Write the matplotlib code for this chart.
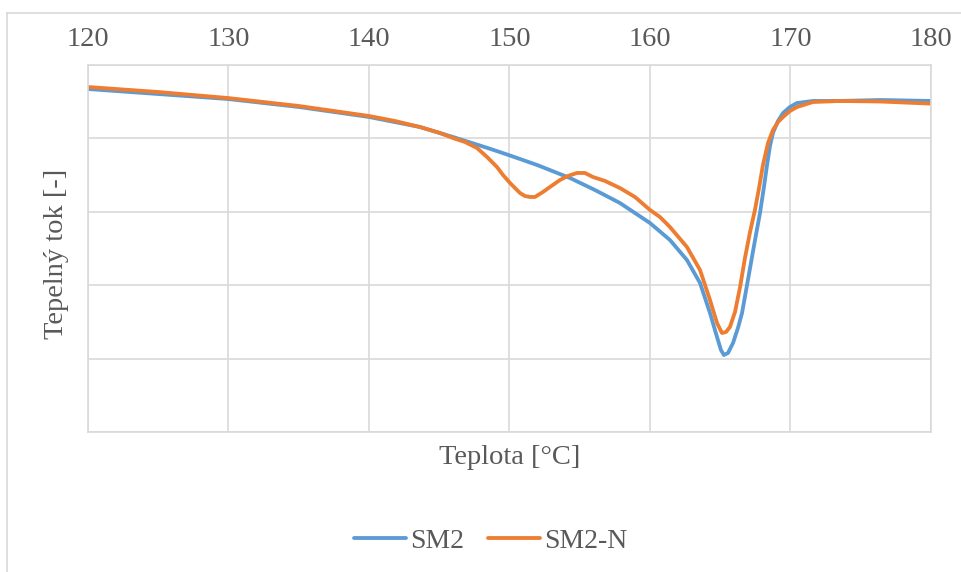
import matplotlib.pyplot as plt
from matplotlib.lines import Line2D

# readings (temperature in degC, heat flow in arbitrary units)
t_sm2 = [120.00, 124.98, 129.96, 135.02, 140.00, 143.63, 145.98, 148.40, 149.96, 151.96,
         154.31, 156.08, 157.86, 160.00, 161.42, 162.63, 163.56, 164.27, 164.77, 165.05,
         165.26, 165.55, 165.91, 166.26, 166.55, 166.97, 167.26, 167.54, 167.83, 168.11,
         168.33, 168.54, 168.75, 169.11, 169.47, 169.96, 170.46, 171.60, 173.52, 176.37,
         180.00]
q_sm2 = [4.673, 4.605, 4.537, 4.428, 4.292, 4.155, 4.019, 3.872, 3.772, 3.638,
         3.460, 3.297, 3.120, 2.847, 2.616, 2.343, 2.030, 1.621, 1.294, 1.117,
         1.049, 1.076, 1.213, 1.417, 1.621, 2.071, 2.384, 2.684, 2.984, 3.338,
         3.638, 3.896, 4.074, 4.237, 4.346, 4.428, 4.482, 4.510, 4.510, 4.523,
         4.510]

t_sm2n = [120.00, 124.98, 129.96, 135.02, 140.00, 141.85, 143.63, 145.05, 145.98, 146.83,
          147.69, 148.40, 149.11, 149.54, 150.04, 150.39, 150.75, 151.10, 151.46, 151.81,
          152.38, 152.88, 153.59, 154.16, 154.80, 155.37, 155.94, 156.80, 157.86, 158.93,
          160.00, 160.71, 161.42, 162.63, 163.56, 164.27, 164.77, 165.12, 165.41, 165.69,
          166.05, 166.41, 166.76, 167.12, 167.47, 167.76, 168.04, 168.40, 168.75, 169.11,
          169.47, 169.96, 170.46, 171.60, 173.52, 176.37, 180.00]
q_sm2n = [4.700, 4.632, 4.550, 4.441, 4.305, 4.237, 4.155, 4.074, 4.005, 3.951,
          3.869, 3.747, 3.610, 3.501, 3.392, 3.324, 3.256, 3.215, 3.202, 3.202,
          3.270, 3.338, 3.433, 3.488, 3.529, 3.529, 3.474, 3.420, 3.324, 3.202,
          3.025, 2.929, 2.793, 2.520, 2.207, 1.798, 1.485, 1.349, 1.362, 1.431,
          1.635, 1.975, 2.371, 2.725, 3.025, 3.324, 3.638, 3.937, 4.114, 4.223,
          4.292, 4.373, 4.428, 4.496, 4.510, 4.503, 4.474]

series_names = ['SM2', 'SM2-N']
colors = ['#5B9BD5', '#ED7D31']
x_ticks = [120, 130, 140, 150, 160, 170, 180]

text_col = '#595959'
grid_col = '#d9d9d9'
fs = 20.5
plt.rcParams['font.family'] = ['Liberation Serif', 'DejaVu Serif']

fig = plt.figure(figsize=(9.62, 5.72), dpi=100)
ax = fig.add_axes([88 / 962, 1 - 432 / 572, (931 - 88) / 962, (432 - 65) / 572])

line_kw = dict(lw=2.75, solid_capstyle='round', solid_joinstyle='round')
ax.plot(t_sm2, q_sm2, color=colors[0], **line_kw)
ax.plot(t_sm2n, q_sm2n, color=colors[1], **line_kw)

ax.set_xlim(120, 180)
ax.set_ylim(0, 5)
ax.set_xticks(x_ticks)
ax.set_yticks([0, 1, 2, 3, 4, 5])
ax.set_yticklabels([])
ax.xaxis.tick_top()
ax.tick_params(axis='x', length=0, pad=9, labelsize=fs, labelcolor=text_col)
ax.tick_params(axis='y', length=0)
ax.grid(True, color=grid_col, lw=1.2)
ax.set_axisbelow(True)
for s in ax.spines.values():
    s.set_color(grid_col)
    s.set_linewidth(1.2)

ax.set_xlabel('Teplota [°C]', fontsize=fs, color=text_col, labelpad=9)
ax.xaxis.set_label_position('bottom')
ax.set_ylabel('Tepelný tok [-]', fontsize=fs, color=text_col)
ax.yaxis.set_label_coords(-0.022, 0.485)

handles = [Line2D([], [], color=c, lw=2.75, solid_capstyle='round') for c in colors]
fig.legend(handles, series_names, loc='center', bbox_to_anchor=(491 / 962, 1 - 541 / 572),
           ncol=2, frameon=False, fontsize=20, handlelength=1.85, handletextpad=0.18,
           columnspacing=0.85, labelcolor=text_col)

# outer chart border (top and left edges visible)
fig.add_artist(Line2D([7 / 962, 1], [1 - 13 / 572, 1 - 13 / 572], color=grid_col, lw=1.2))
fig.add_artist(Line2D([7 / 962, 7 / 962], [0, 1 - 13 / 572], color=grid_col, lw=1.2))

fig.savefig('out.png', dpi=100)
